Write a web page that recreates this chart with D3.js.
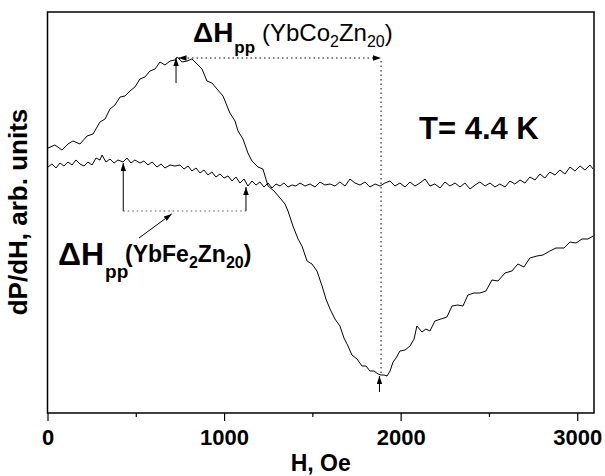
<!DOCTYPE html>
<html>
<head>
<meta charset="utf-8">
<script src="https://cdn.jsdelivr.net/npm/d3@7"></script>
<style>
  body { margin: 0; background: #fff; }
  text { font-family: "Liberation Sans", Arial, sans-serif; fill: #000; }
</style>
</head>
<body>
<svg id="chart" width="605" height="476"></svg>
<script>
// H (Oe) and dP/dH (arb. units)
var fieldCo = [3,42,82,116,144,184,224,258,297,326,354,382,411,439,467,495,524,552,580,609,637,665,694,722,734,762,790,818,847,875,903,931,960,994,1033,1062,1079,1107,1135,1158,1192,1220,1249,1283,1317,1345,1362,1390,1419,1441,1470,1498,1526,1555,1577,1600,1628,1656,1679,1702,1724,1753,1781,1804,1826,1849,1872,1889,1906,1923,1940,1957,1974,1996,2025,2053,2076,2092,2121,2143,2166,2194,2228,2262,2291,2325,2353,2381,2415,2449,2483,2517,2551,2591,2630,2664,2698,2732,2772,2806,2845,2880,2925,2959,2993,3027,3061,3090];
var signalCo = [265,268,263,269,272,269,277,279,291,294,304,308,316,317,322,326,334,336,342,344,351,348,352,353,356,351,352,354,349,344,332,330,324,317,300,292,282,274,260,252,246,244,227,222,215,209,202,187,174,167,152,149,142,127,114,104,94,87,75,67,58,54,47,47,42,42,39,38,38,37,42,51,55,62,63,67,74,87,81,84,82,92,94,96,107,108,107,118,120,120,122,133,132,140,142,149,146,155,157,158,162,165,165,171,170,174,174,177];

var fieldFe = [3,25,48,71,93,116,139,161,184,207,229,252,275,297,309,331,354,377,399,428,450,473,495,524,546,569,592,620,643,665,694,722,750,773,796,818,841,864,886,909,931,954,977,1000,1022,1045,1067,1090,1113,1135,1158,1181,1203,1226,1249,1271,1294,1317,1339,1362,1385,1407,1430,1458,1487,1515,1543,1571,1600,1628,1656,1685,1713,1741,1770,1798,1826,1855,1883,1911,1940,1968,1996,2025,2053,2081,2109,2138,2166,2194,2223,2251,2279,2308,2336,2364,2393,2421,2449,2478,2506,2534,2562,2591,2619,2647,2676,2704,2732,2761,2789,2817,2845,2874,2902,2931,2959,2987,3016,3044,3072,3090];
var signalFe = [246,249,245,250,247,251,248,253,249,247,251,248,255,253,258,251,254,250,253,251,255,250,253,250,252,248,251,246,249,245,248,247,248,244,247,242,245,240,243,238,241,236,239,235,237,232,236,230,234,227,232,228,231,226,230,225,229,227,230,226,228,227,230,227,229,226,231,228,229,227,231,227,234,230,228,231,226,229,227,230,232,227,230,226,231,227,230,234,227,229,225,231,227,230,226,230,224,228,231,227,230,226,229,226,232,229,233,230,236,233,239,235,241,238,243,239,246,242,247,243,248,244];

var xMajor = [0, 1000, 2000, 3000];
var xMinor = [500, 1500, 2500];

(function(){
  var svg = d3.select("#chart");
  var mLeft = 47.5, mRight = 594, mTop = 12, mBottom = 413;

  var x = d3.scaleLinear().domain([0, 3095]).range([mLeft, mRight]);
  var y = d3.scaleLinear().domain([0, 401]).range([mBottom, mTop]);

  svg.append("defs").append("marker")
      .attr("id", "head")
      .attr("viewBox", "0 0 10 10")
      .attr("refX", 10).attr("refY", 5)
      .attr("markerUnits", "userSpaceOnUse")
      .attr("markerWidth", 8).attr("markerHeight", 5.5)
      .attr("preserveAspectRatio", "none")
      .attr("orient", "auto-start-reverse")
    .append("path")
      .attr("d", "M0,0L10,5L0,10z")
      .attr("fill", "#000");

  // frame
  svg.append("rect")
      .attr("x", mLeft).attr("y", mTop)
      .attr("width", mRight - mLeft).attr("height", mBottom - mTop)
      .attr("fill", "none").attr("stroke", "#000").attr("stroke-width", 1.5);

  // bottom axis, major + minor ticks
  var axisMajor = svg.append("g")
      .attr("transform", "translate(0," + mBottom + ")")
      .call(d3.axisBottom(x).tickValues(xMajor).tickSize(8).tickPadding(8).tickFormat(d3.format("d")));
  axisMajor.select(".domain").remove();
  axisMajor.selectAll("line").attr("stroke-width", 1.2);
  axisMajor.selectAll("text")
      .style("font-size", "22px").style("font-weight", "bold")
      .style("font-family", '"Liberation Sans", Arial, sans-serif');

  var axisMinor = svg.append("g")
      .attr("transform", "translate(0," + mBottom + ")")
      .call(d3.axisBottom(x).tickValues(xMinor).tickSize(4).tickFormat(""));
  axisMinor.select(".domain").remove();
  axisMinor.selectAll("line").attr("stroke-width", 1.2);

  // curves
  var line = d3.line()
      .x(function(d) { return x(d[0]); })
      .y(function(d) { return y(d[1]); });

  svg.append("path")
      .datum(d3.zip(fieldCo, signalCo))
      .attr("d", line)
      .attr("fill", "none").attr("stroke", "#000").attr("stroke-width", 1);

  svg.append("path")
      .datum(d3.zip(fieldFe, signalFe))
      .attr("d", line)
      .attr("fill", "none").attr("stroke", "#000").attr("stroke-width", 1);

  // annotations, in data coords
  function seg(x1, y1, x2, y2) {
    return svg.append("line")
        .attr("x1", x(x1)).attr("y1", y(y1))
        .attr("x2", x(x2)).attr("y2", y(y2))
        .attr("stroke", "#000").attr("stroke-width", 1);
  }

  // YbCo2Zn20 peak-to-peak
  seg(728, 330, 728, 355).attr("marker-end", "url(#head)");
  seg(742, 355, 1889, 355).attr("stroke-dasharray", "1.5,3")
      .attr("marker-start", "url(#head)").attr("marker-end", "url(#head)");
  seg(1889, 352, 1889, 40).attr("stroke-dasharray", "1.5,3");
  seg(1880, 21, 1880, 37).attr("marker-end", "url(#head)");

  // YbFe2Zn20 peak-to-peak
  seg(429, 202, 429, 250).attr("marker-end", "url(#head)");
  seg(1124, 202, 1124, 226).attr("marker-end", "url(#head)");
  seg(429, 202, 1124, 202).attr("stroke-dasharray", "1.5,3").attr("stroke", "#555");
  seg(518, 175, 703, 199).attr("marker-end", "url(#head)");

  // labels
  function dh(xp, yp, big, small, rest, restSize, subSize, restWeight, restX, restY) {
    var d = svg.append("text").attr("x", xp).attr("y", yp)
        .style("font-size", big + "px").style("font-weight", "bold").text("\u0394H");
    var w = d.node().getComputedTextLength();
    svg.append("text").attr("x", xp + w + 1).attr("y", yp + big * 0.4)
        .style("font-size", small + "px").style("font-weight", "bold").text("pp");
    var t = svg.append("text").attr("x", restX).attr("y", restY)
        .style("font-size", restSize + "px").style("font-weight", restWeight);
    t.append("tspan").text("(Yb" + rest);
    t.append("tspan").attr("dy", 6).style("font-size", subSize + "px").text("2");
    t.append("tspan").attr("dy", -6).text("Zn");
    t.append("tspan").attr("dy", 6).style("font-size", subSize + "px").text("20");
    t.append("tspan").attr("dy", -6).text(")");
  }
  dh(193, 42, 28, 17, "Co", 24, 16, "normal", 262, 41);
  dh(58, 265, 32, 19, "Fe", 23, 16, "bold", 125, 262);

  svg.append("text").attr("x", 419).attr("y", 139)
      .style("font-size", "31px").style("font-weight", "bold").text("T= 4.4 K");

  svg.append("text")
      .attr("x", (mLeft + mRight) / 2).attr("y", 471)
      .attr("text-anchor", "middle")
      .style("font-size", "23px").style("font-weight", "bold").text("H, Oe");

  svg.append("text")
      .attr("transform", "translate(27,212) rotate(-90)")
      .attr("text-anchor", "middle")
      .style("font-size", "26px").style("font-weight", "bold").text("dP/dH, arb. units");
})();
</script>
</body>
</html>
